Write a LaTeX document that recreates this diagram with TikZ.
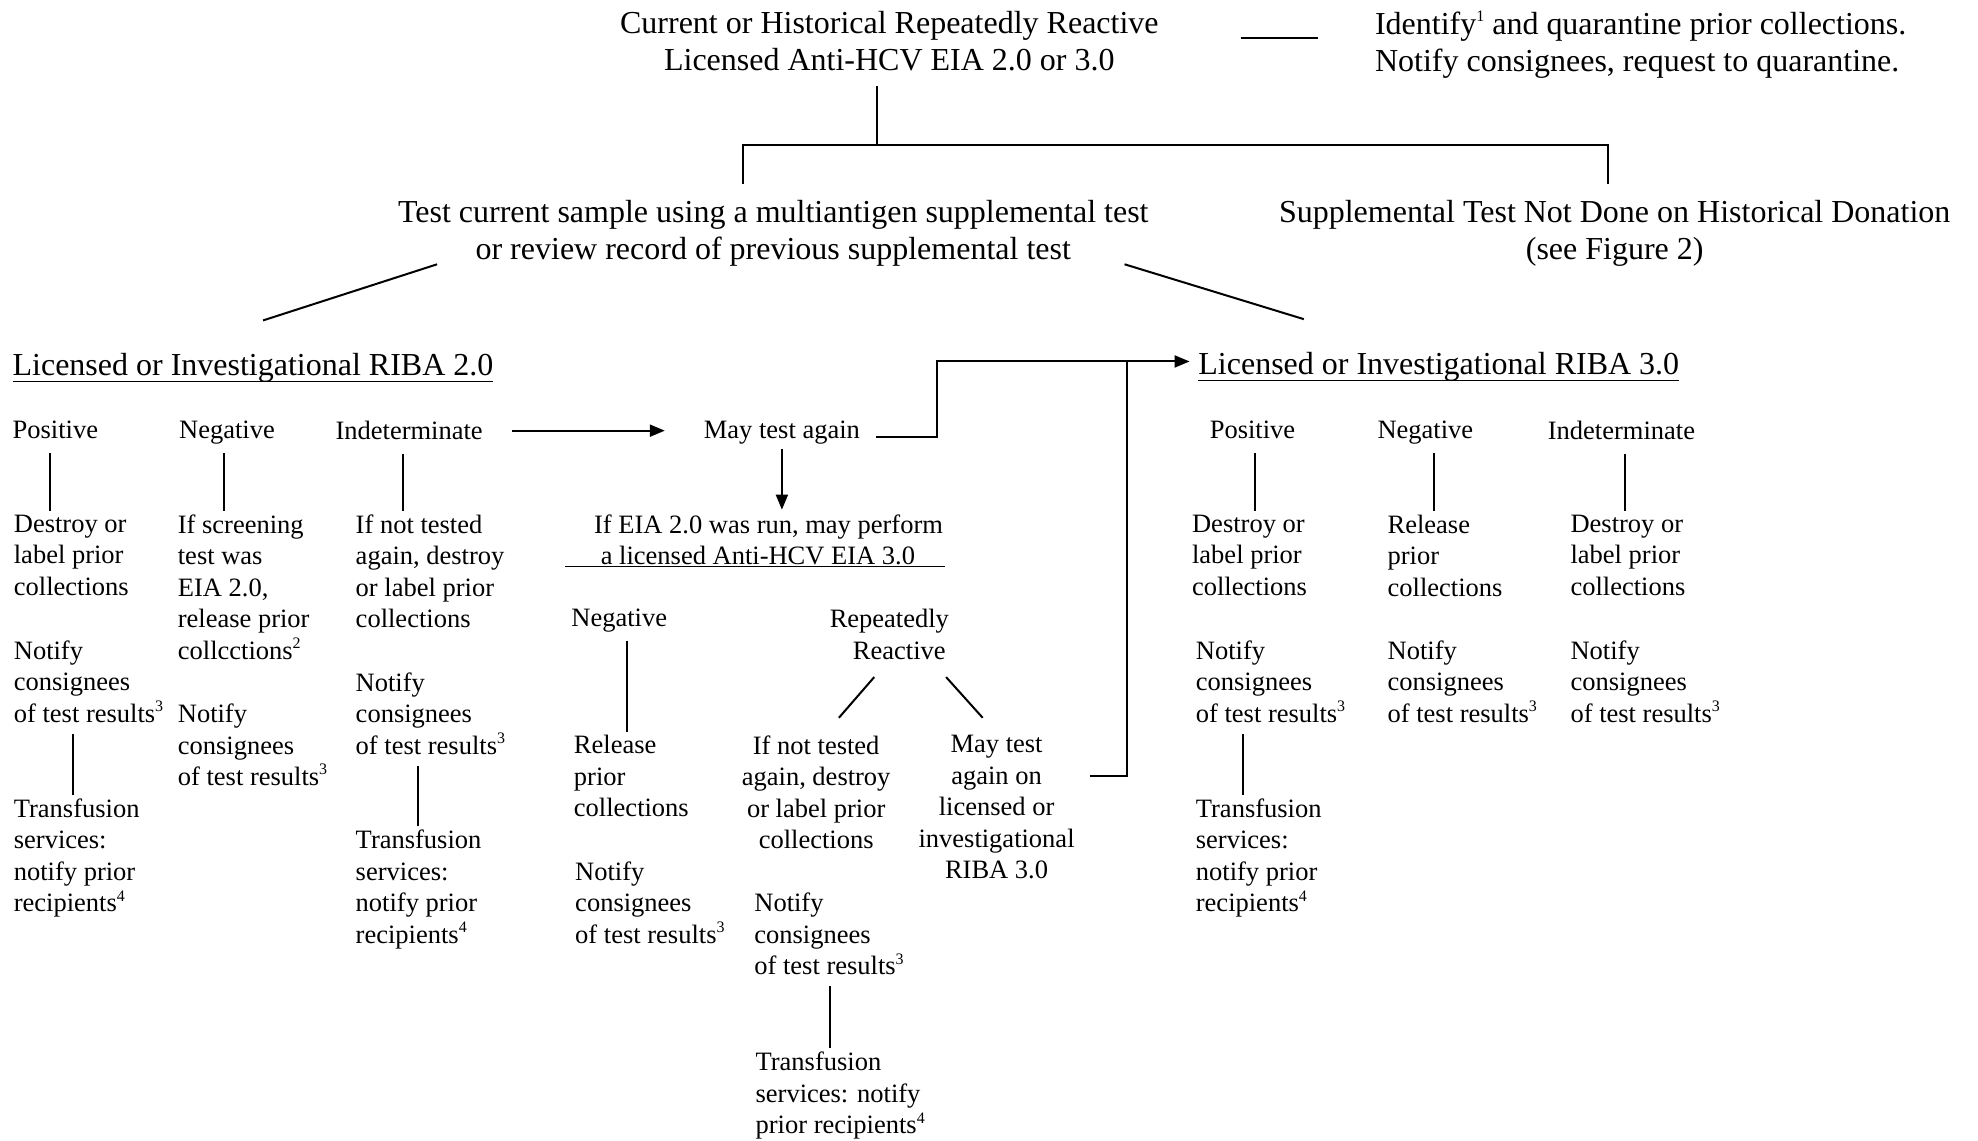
\documentclass[tikz,border=0pt]{standalone}
\usepackage{fontspec}
\setmainfont{Liberation Serif}
\usetikzlibrary{arrows.meta,calc}
\newcommand\vcon[4]{\coordinate (vtmp) at ($(#1)+(#3,#4)$);\draw[ln] (vtmp) -- ($(vtmp |- #2.north)+(0,-3)$);}
\newcommand\sups[1]{\raisebox{0.4em}{\fontsize{16}{16}\selectfont #1}}
\begin{document}
\begin{tikzpicture}[x=1.2615pt,y=-1.2615pt,
  txt/.style={inner sep=0pt, outer sep=0pt, align=left, anchor=north west, font=\fontsize{26.5}{31.5}\selectfont},
  ctxt/.style={txt, align=center, anchor=north},
  hd/.style={inner sep=0pt, outer sep=0pt, align=center, anchor=north, font=\fontsize{32}{37.2}\selectfont},
  ln/.style={line width=2pt},
  uln/.style={line width=1.5pt},
  arr/.style={ln, -{Triangle[length=15pt,width=12pt]}}]
\fill[white] (0,0) rectangle (1568,904);
\useasboundingbox (0,0) rectangle (1568,904);

% top level
\node[hd] (top) at (705,9) {Current or Historical Repeatedly Reactive\\Licensed Anti-HCV EIA 2.0 or 3.0};
\node[hd, align=left, anchor=north west] (idn) at (1090,9) {Identify\sups{1} and quarantine prior collections.\\Notify consignees, request to quarantine.};
\draw[ln] ($(top.east)+(65,-3)$) -- ($(top.east -| idn.west)+(-45,-3)$);

\node[hd] (test) at (613,159) {Test current sample using a multiantigen supplemental test\\or review record of previous supplemental test};
\node[hd] (supp) at (1280,159) {Supplemental Test Not Done on Historical Donation\\(see Figure 2)};

\coordinate (jt) at ($(test.north)+(82,-44)$);
\draw[ln] ($(top.south -| jt)+(0,12)$) -- (jt);
\draw[ln] ($(test.north)+(-24,-13)$) -- ++(0,-31) -| ($(supp.north)+(-5,-13)$);

% RIBA titles
\node[hd, align=left, anchor=north west] (r2) at (10,280) {Licensed or Investigational RIBA 2.0};
\draw[uln] ($(r2.base west)+(0,5)$) -- ($(r2.base east)+(0,5)$);
\node[hd, align=left, anchor=north west] (r3) at (950,279) {Licensed or Investigational RIBA 3.0};
\draw[uln] ($(r3.base west)+(0,5)$) -- ($(r3.base east)+(0,5)$);

\draw[ln] ($(test.south west)+(31,-2)$) -- ($(r2.north)+(8,-26)$);
\draw[ln] ($(test.south east)+(-19,-2)$) -- ($(r3.north)+(-107,-26)$);

% RIBA 2.0 branch
\node[txt] (pos2) at (10,334) {Positive};
\node[txt] (neg2) at (142,334) {Negative};
\node[txt] (ind2) at (266,334) {Indeterminate};
\node[txt] (may) at (558,334) {May test again};

\node[txt] (des2) at (11,408) {Destroy or\\label prior\\collections};
\node[txt] (rel2) at (141,408) {If screening\\test was\\EIA 2.0,\\release prior\\collcctions\sups{2}};
\node[txt] (int2) at (282,408) {If not tested\\again, destroy\\or label prior\\collections};
\node[txt] (not2a) at (11,508) {Notify\\consignees\\of test results\sups{3}};
\node[txt] (not2b) at (141,558) {Notify\\consignees\\of test results\sups{3}};
\node[txt] (not2c) at (282,533) {Notify\\consignees\\of test results\sups{3}};
\node[txt] (tra2a) at (11,633) {Transfusion\\services:\\notify prior\\recipients\sups{4}};
\node[txt] (tra2c) at (282,658) {Transfusion\\services:\\notify prior\\recipients\sups{4}};

\vcon{pos2.base}{des2}{-4}{11}
\vcon{neg2.base}{rel2}{-2}{11}
\vcon{ind2.base}{int2}{-5}{11}
\vcon{not2a.south}{tra2a}{-12}{9}
\vcon{not2c.south}{tra2c}{-10}{9}

% may test again
\draw[arr] ($(ind2.east)+(23,0)$) -- ($(may.west |- ind2.east)+(-31,0)$);
\node[txt] (eia) at (471,408) {If EIA 2.0 was run, may perform\\\ a licensed Anti-HCV EIA 3.0};
\draw[uln] ($(eia.south west)+(-23,1)$) -- ($(eia.south east)+(2,1)$);
\draw[arr] ($(may.base)+(0,8)$) -- ($(may.base |- eia.north)+(0,-4)$);

\coordinate (j) at ($(r3.west)+(-57,-4)$);
\draw[arr] ($(may.east)+(13,3)$) -- ++(48,0) |- ($(r3.west)+(-7,-4)$);

\node[txt] (neg3) at (453,483) {Negative};
\node[ctxt] (rr) at (705,483) {Repeatedly\\\ \ \ Reactive};
\node[txt] (relm) at (455,583) {Release\\prior\\collections};
\node[txt] (notm1) at (456,683) {Notify\\consignees\\of test results\sups{3}};
\node[ctxt] (intm) at (647,583) {If not tested\\again, destroy\\or label prior\\collections};
\node[ctxt] (mt) at (790,583) {May test\\again on\\licensed or\\investigational\\RIBA 3.0};
\node[txt] (notm2) at (598,708) {Notify\\consignees\\of test results\sups{3}};
\node[txt] (tram) at (599,834) {Transfusion\\services: notify\\prior recipients\sups{4}};

\vcon{neg3.base}{relm}{6}{11}
\vcon{notm2.south}{tram}{1}{9}
\draw[ln] ($(rr.south)+(-12,14)$) -- ($(intm.north)+(18,-14)$);
\draw[ln] ($(rr.south)+(45,14)$) -- ($(mt.north)+(-11,-14)$);
\draw[ln] ($(mt.north east)+(12,32)$) -| (j);

% RIBA 3.0 branch
\node[txt] (pos3) at (959,334) {Positive};
\node[txt] (neg3r) at (1092,334) {Negative};
\node[txt] (ind3) at (1227,334) {Indeterminate};
\node[txt] (des3a) at (945,408) {Destroy or\\label prior\\collections};
\node[txt] (rel3) at (1100,408) {Release\\prior\\collections};
\node[txt] (des3b) at (1245,408) {Destroy or\\label prior\\collections};
\node[txt] (not3a) at (948,508) {Notify\\consignees\\of test results\sups{3}};
\node[txt] (not3b) at (1100,508) {Notify\\consignees\\of test results\sups{3}};
\node[txt] (not3c) at (1245,508) {Notify\\consignees\\of test results\sups{3}};
\node[txt] (tra3) at (948,633) {Transfusion\\services:\\notify prior\\recipients\sups{4}};

\vcon{pos3.base}{des3a}{2}{11}
\vcon{neg3r.base}{rel3}{7}{11}
\vcon{ind3.base}{des3b}{3}{11}
\vcon{not3a.south}{tra3}{-22}{9}
\end{tikzpicture}
\end{document}
